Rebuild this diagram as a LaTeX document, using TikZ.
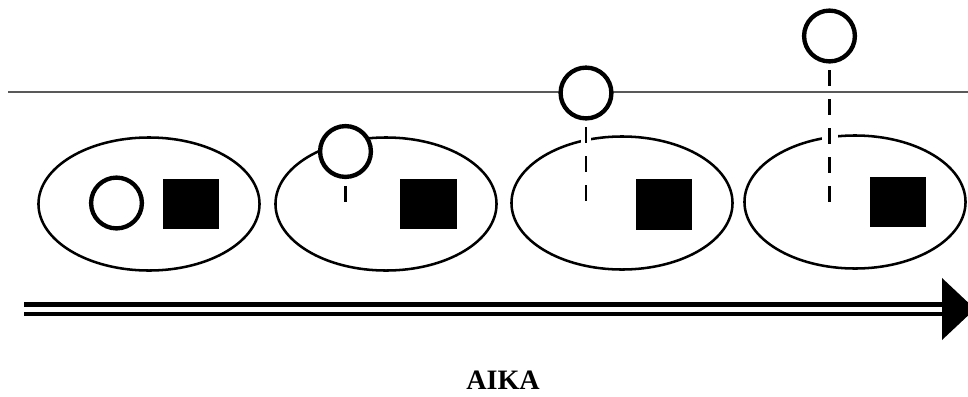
\documentclass[tikz,border=0pt]{standalone}
\usepackage{fontspec}
\setmainfont{Liberation Serif}
\usetikzlibrary{shapes.geometric, backgrounds}

\begin{document}
\begin{tikzpicture}[
            x = 0.025cm, y = -0.025cm,
            cell/.style = {draw, ellipse, line width = 1.8pt, inner sep = 0mm, minimum width = 5.525cm, minimum height = 3.325cm},
            ball/.style = {draw, circle, fill = white, line width = 3.1pt, inner sep = 0mm, minimum size = 1.27cm},
            block/.style = {fill, inner sep = 0mm, minimum width = 1.4cm, minimum height = 1.25cm},
            tether/.style = {draw, line width = 2.1pt, dash pattern = on 0.4cm off 0.325cm, shorten < = 0.17cm,
                preaction = {draw = white, line width = #1}},
            tether/.default = 0.3cm,
            level/.style = {draw, black!65, line width = 1.1pt},
            rail/.style = {draw, line width = #1},
        ]
        \useasboundingbox (0,0) rectangle (968,396);

        \node (c1) [ball] at (116.5,203) {};
        \node (c2) [ball] at (345.5,151.5) {};
        \node (c3) [ball] at (586,93) {};
        \node (c4) [ball] at (829.5,36) {};

        \node (s1) [block] at (191,204) {};
        \node (s2) [block] at (428.5,204) {};
        \node (s3) [block] at (664,204.5) {};
        \node (s4) [block] at (897.5,202) {};

        \begin{scope}[on background layer]
            \node (e1) [cell] at (149,204) {};
            \node (e2) [cell] at (386,204) {};
            \node (e3) [cell] at (622,203) {};
            \node (e4) [cell] at (855,202) {};

            \coordinate (d2) at (c2 |- e2);
            \coordinate (d3) at (c3 |- e3);
            \coordinate (d4) at (c4 |- e4);

            \path[tether] (c2) -- (d2);
            \path[tether=0.25cm] (c3) -- (d3);
            \path[tether=0.4cm] (c4) -- (d4);

            \coordinate (hl) at (8,92);
            \coordinate (hr) at (968,92);
            \path[level] (hl) -- (hr);
        \end{scope}

        \coordinate (t0) at (24,309);
        \coordinate (t1) at (942,309);
        \coordinate (tip) at (975,309);

        \path[rail = 0.14cm] ([yshift=0.11cm]t0) -- ([yshift=0.11cm]t1);
        \path[rail = 0.085cm] ([yshift=-0.125cm]t0) -- ([yshift=-0.125cm]t1);
        \fill ([yshift=0.775cm]t1) -- (tip) -- ([yshift=-0.775cm]t1) -- cycle;

        \node (title) [anchor = base, font = \bfseries\fontsize{20}{24}\selectfont] at (503,389) {AIKA};
    \end{tikzpicture}
\end{document}
